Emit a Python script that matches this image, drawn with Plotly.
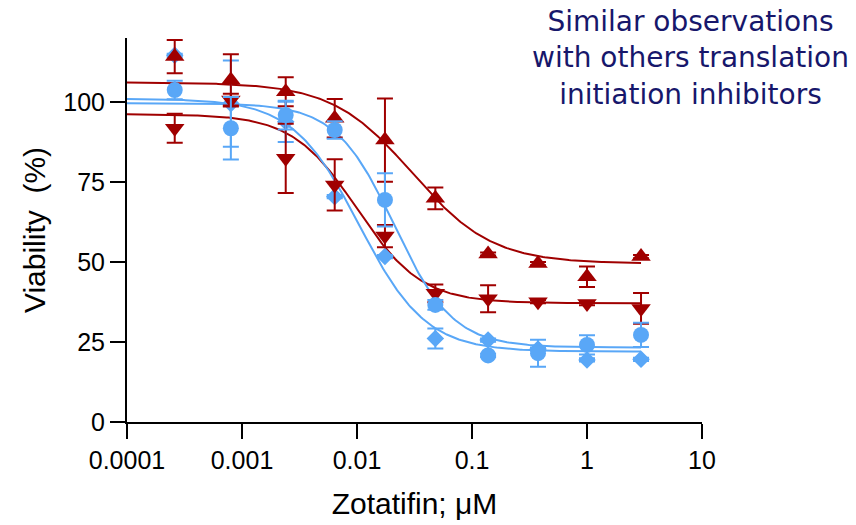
import numpy as np
import plotly.graph_objects as go

# ---- data ----
conc = [0.00026, 0.0008, 0.0024, 0.0064, 0.0175, 0.048, 0.138, 0.375, 1.0, 2.95]

up_mean = [114.2, 106.9, 103.2, 94.9, 88.1, 69.9, 52.5, 49.5, 45.4, 51.7]
up_err = [5.2, 8.0, 4.5, 6.0, 13.0, 3.4, 0.5, 0.5, 3.2, 0.5]

down_mean = [91.8, 100.6, 82.4, 74.1, 58.1, 40.2, 38.5, 37.6, 37.0, 35.5]
down_err = [4.5, 2.0, 10.8, 8.0, 3.5, 2.8, 4.2, 0.5, 0.5, 4.8]

circ_mean = [103.75, 91.8, 95.9, 91.25, 69.4, 36.6, 20.8, 21.5, 24.1, 27.2]
circ_err = [2.9, 9.8, 4.5, 2.7, 8.3, 1.5, 0.5, 4.2, 3.0, 3.8]

diam_mean = [114.6, 99.5, 93.8, 70.4, 51.7, 26.1, 25.6, 22.8, 19.4, 19.6]
diam_err = [0.5, 13.5, 6.3, 0.5, 0.5, 3.1, 0.5, 0.5, 0.5, 0.5]

# four-parameter logistic fit parameters (top, bottom, logEC50, hill)
up_fit = [106.1, 49.5, -1.52, 1.25]
down_fit = [96.2, 37.1, -2.0, 1.55]
circ_fit = [99.6, 23.3, -1.676, 1.7]
diam_fit = [101.0, 22.0, -1.98, 1.5]

x_tickvals = [0.0001, 0.001, 0.01, 0.1, 1, 10]
x_ticktext = ["0.0001", "0.001", "0.01", "0.1", "1", "10"]
y_tickvals = [0, 25, 50, 75, 100]

RED = "#a00000"
BLUE = "#59a7f7"


def fit_curve(p):
    top, bottom, logec, hill = p
    lx = np.linspace(-4, np.log10(conc[-1]), 300)
    y = bottom + (top - bottom) / (1 + 10 ** ((lx - logec) * hill))
    return 10 ** lx, y


fig = go.Figure()

for p, col in [(up_fit, RED), (down_fit, RED), (circ_fit, BLUE), (diam_fit, BLUE)]:
    cx, cy = fit_curve(p)
    fig.add_trace(go.Scatter(x=cx, y=cy, mode="lines",
                             line=dict(color=col, width=2), hoverinfo="skip",
                             showlegend=False))

series = [
    (diam_mean, diam_err, "diamond", BLUE, 13.5),
    (up_mean, up_err, "triangle-up", RED, 17),
    (down_mean, down_err, "triangle-down", RED, 17),
    (circ_mean, circ_err, "circle", BLUE, 16),
]
for m, e, sym, col, sz in series:
    fig.add_trace(go.Scatter(
        x=conc, y=m, mode="markers",
        marker=dict(symbol=sym, size=sz, color=col, line=dict(width=0)),
        error_y=dict(type="data", array=e, visible=True, color=col,
                     thickness=2, width=8),
        showlegend=False))

# the page body adds an 8px margin, so the figure is 848x517
W, H = 848, 517
ML, MR, MT, MB = 119, 154, 30, 103
PH = H - MT - MB

fig.update_layout(
    width=W, height=H,
    margin=dict(l=ML, r=MR, t=MT, b=MB, autoexpand=False),
    plot_bgcolor="white", paper_bgcolor="white",
    font=dict(family="Liberation Sans, Arial, sans-serif", color="black"),
    showlegend=False,
)
fig.update_xaxes(
    type="log", range=[-4, 1], automargin=False,
    tickvals=x_tickvals, ticktext=x_ticktext,
    showline=True, linecolor="black", linewidth=2,
    ticks="outside", ticklen=15, tickwidth=2, tickcolor="black",
    showgrid=False, zeroline=False,
    tickfont=dict(size=25),
    title=dict(text="Zotatifin; μM", font=dict(size=30), standoff=20),
)
fig.update_yaxes(
    range=[0, 120], automargin=False,
    tickvals=y_tickvals,
    showline=True, linecolor="black", linewidth=2,
    ticks="outside", ticklen=15, tickwidth=2, tickcolor="black",
    showgrid=False, zeroline=False,
    tickfont=dict(size=25),
    title=dict(text="Viability\u00a0\u00a0(%)", font=dict(size=30), standoff=9),
)

fig.add_annotation(
    xref="paper", yref="paper",
    x=(690 - 8 - ML) / (W - ML - MR), y=1 + (MT - 50) / PH,
    xanchor="center", yanchor="middle", showarrow=False, align="center",
    text="Similar observations<br>with others translation<br>initiation inhibitors",
    font=dict(family="DejaVu Sans, Verdana, sans-serif", size=28, color="#17176b"),
)

fig.write_html("out.html")
